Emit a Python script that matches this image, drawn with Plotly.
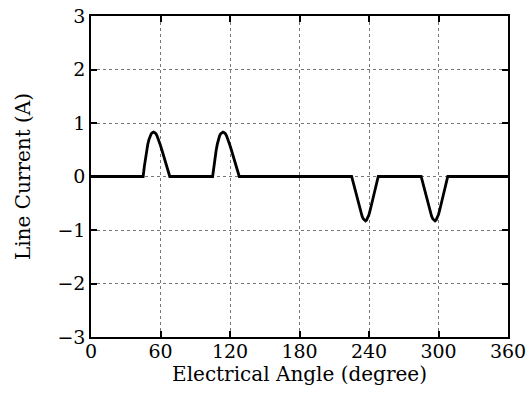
import plotly.graph_objects as go

# Line current over one electrical cycle (degrees, amperes)
pulse_up_1_deg = [45, 46, 47, 48, 49, 50, 51, 52, 53, 54, 55, 56, 57, 58, 59, 60, 61, 62, 63, 64, 65, 66, 67, 68]
pulse_up_1_amp = [0.0, 0.18, 0.34, 0.48, 0.6, 0.69, 0.76, 0.8, 0.82, 0.83, 0.82, 0.8, 0.76, 0.71, 0.65, 0.58, 0.51, 0.44, 0.36, 0.28, 0.2, 0.12, 0.05, 0.0]

pulse_up_2_deg = [105, 106, 107, 108, 109, 110, 111, 112, 113, 114, 115, 116, 117, 118, 119, 120, 121, 122, 123, 124, 125, 126, 127, 128]
pulse_up_2_amp = [0.0, 0.18, 0.34, 0.48, 0.6, 0.69, 0.76, 0.8, 0.82, 0.83, 0.82, 0.8, 0.76, 0.71, 0.65, 0.58, 0.51, 0.44, 0.36, 0.28, 0.2, 0.12, 0.05, 0.0]

pulse_dn_1_deg = [225, 226, 227, 228, 229, 230, 231, 232, 233, 234, 235, 236, 237, 238, 239, 240, 241, 242, 243, 244, 245, 246, 247, 248]
pulse_dn_1_amp = [0.0, -0.08, -0.17, -0.26, -0.35, -0.44, -0.53, -0.61, -0.68, -0.74, -0.79, -0.82, -0.83, -0.81, -0.77, -0.71, -0.63, -0.54, -0.44, -0.34, -0.24, -0.15, -0.06, 0.0]

pulse_dn_2_deg = [285, 286, 287, 288, 289, 290, 291, 292, 293, 294, 295, 296, 297, 298, 299, 300, 301, 302, 303, 304, 305, 306, 307, 308]
pulse_dn_2_amp = [0.0, -0.08, -0.17, -0.26, -0.35, -0.44, -0.53, -0.61, -0.68, -0.74, -0.79, -0.82, -0.83, -0.81, -0.77, -0.71, -0.63, -0.54, -0.44, -0.34, -0.24, -0.15, -0.06, 0.0]

x_ticks = [0, 60, 120, 180, 240, 300, 360]
y_ticks = [-3, -2, -1, 0, 1, 2, 3]
y_tick_text = ["\u22123", "\u22122", "\u22121", "0", "1", "2", "3"]

angle = [0] + pulse_up_1_deg + pulse_up_2_deg + pulse_dn_1_deg + pulse_dn_2_deg + [360]
current = [0.0] + pulse_up_1_amp + pulse_up_2_amp + pulse_dn_1_amp + pulse_dn_2_amp + [0.0]

font_family = "DejaVu Serif, Liberation Serif, serif"

fig = go.Figure()
fig.add_trace(go.Scatter(
    x=angle, y=current, mode="lines",
    line=dict(color="black", width=2.8),
    showlegend=False, hoverinfo="skip",
))

axis_common = dict(
    showline=True, linecolor="black", linewidth=1.5, mirror="ticks",
    ticks="inside", ticklen=6, tickwidth=1.5, tickcolor="black",
    showgrid=True, gridcolor="#777777", gridwidth=1, griddash="dot",
    zeroline=False, automargin=False,
    tickfont=dict(family=font_family, size=19, color="black"),
)

fig.update_xaxes(
    range=[0, 360], tickvals=x_ticks, ticktext=[str(v) for v in x_ticks],
    ticklabelstandoff=-4,
    title=dict(text="Electrical Angle (degree)", font=dict(family=font_family, size=20, color="black"), standoff=0),
    **axis_common,
)
fig.update_yaxes(
    range=[-3, 3], tickvals=y_ticks, ticktext=y_tick_text,
    title=dict(text="Line Current (A)", font=dict(family=font_family, size=20, color="black"), standoff=21),
    **axis_common,
)

fig.update_layout(
    width=527, height=401,
    margin=dict(l=91, r=19, t=16, b=64),
    paper_bgcolor="white", plot_bgcolor="white",
)

fig.write_html("out.html")
